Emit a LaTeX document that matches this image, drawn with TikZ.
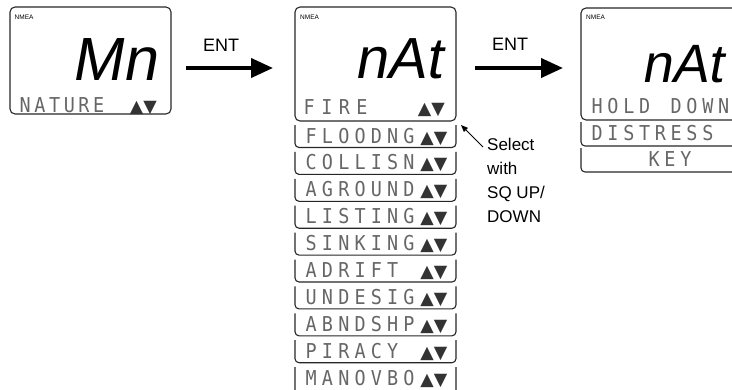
\documentclass[tikz,border=0pt]{standalone}
\usepackage{fontspec}
\setmainfont{Liberation Sans}
\newfontfamily\lcdfont{DejaVu Sans Mono}[FakeStretch=0.9]
\newfontfamily\symfont{DejaVu Sans}
\newfontfamily\segfont{Liberation Sans}[FakeSlant=0.18]
\usetikzlibrary{arrows.meta}
\newlength\lcdpitch
\newcommand\lcdloop[1]{\ifx\relax#1\else\makebox[\lcdpitch][l]{#1}\expandafter\lcdloop\fi}
\newcommand\lcdrun[2][16.3pt]{\setlength\lcdpitch{#1}\edef\lcdtmp{#2}\expandafter\lcdloop\lcdtmp\relax}
\begin{document}
\begin{tikzpicture}[x=1pt,y=-1pt,
  frame/.style={draw=black!85, line width=1.1pt},
  mainbox/.style={frame, rounded corners=5pt, minimum width=161pt, inner sep=0},
  lcd/.style={font=\lcdfont\fontsize{20.5}{20.5}\selectfont, text=black!60, inner sep=0, anchor=base west},
  av/.style={font=\symfont\fontsize{17.5}{17.5}\selectfont, text=black!80, inner sep=0, anchor=base east},
  seg/.style={font=\segfont\fontsize{58}{58}\selectfont, inner sep=0, anchor=base west},
  nmea/.style={font=\fontsize{6.5}{6.5}\selectfont, inner sep=0, anchor=west},
  lbl/.style={font=\fontsize{18}{18}\selectfont, inner sep=0},
  entarrow/.style={line width=4pt, -{Triangle[length=22pt,width=19pt]}},
  selarrow/.style={line width=0.9pt, -{Triangle[length=7pt,width=5.5pt]}}
]
\useasboundingbox (0,0) rectangle (732,389);
\clip (0,0) rectangle (732,389);

% ---- display 1
\node[mainbox, minimum height=107pt] (b1) at (90.5,60.5) {};
\node[nmea] (n1) at (14.5,17.5) {NMEA};
\node[seg, font=\segfont\fontsize{61}{61}\selectfont] (m1) at (71,80) {Mn};
\node[lcd] (t1) at (19.5,112.5) {\lcdrun[14.7pt]{NATURE}};
\node[av] (v1) at (157,112.5) {▲▼};

% ---- display 2
\node[mainbox, minimum height=114pt] (b2) at (375.5,64) {};
\node[nmea] (n2) at (300,17.5) {NMEA};
\node[seg] (m2) at (354,78) {nAt};
\node[lcd] (t2) at (303.5,114) {\lcdrun[17.6pt]{FIRE}};
\node[av] (v2) at (445,114) {▲▼};

\foreach \nm [count=\i from 0] in {FLOODNG,COLLISN,AGROUND,LISTING,SINKING,ADRIFT,UNDESIG,ABNDSHP,PIRACY,MANOVBO} {
  \pgfmathsetmacro\tp{125+26.9*\i}
  \pgfmathsetmacro\bt{\i==9 ? 420 : \tp+22.5}
  \pgfmathsetmacro\bl{\tp+18}
  \draw[frame, rounded corners=4pt] (295,\tp) -- (295,\bt) -- (456,\bt) -- (456,\tp);
  \node[lcd] (r\i) at (305.5,\bl) {\lcdrun{\nm}};
  \node[av] (w\i) at (447.5,\bl) {▲▼};
}

% ---- display 3
\node[mainbox, minimum height=112pt] (b3) at (661.5,64) {};
\node[nmea] (n3) at (586,17.5) {NMEA};
\node[seg, font=\segfont\fontsize{54}{54}\selectfont] (m3) at (641,82) {nAt};
\node[lcd] (t3) at (591.5,113) {\lcdrun[15.8pt]{HOLD\ DOWN}};
\draw[frame, rounded corners=4pt] (581,122) -- (581,146) -- (742,146) -- (742,122);
\node[lcd] (t4) at (591.5,140) {\lcdrun[15.8pt]{DISTRESS}};
\draw[frame, rounded corners=4pt] (581,148) -- (581,172) -- (742,172) -- (742,148);
\node[lcd] (t5) at (648.5,166) {\lcdrun[15.8pt]{KEY}};

% ---- arrows and labels
\node[lbl] (e1) at (221,45) {ENT};
\node[lbl] (e2) at (510,44) {ENT};
\coordinate (a1s) at (186,68);
\coordinate (a1e) at (273,68);
\coordinate (a2s) at (475,68);
\coordinate (a2e) at (563,68);
\draw[entarrow] (a1s) -- (a1e);
\draw[entarrow] (a2s) -- (a2e);

\node[font=\fontsize{17}{24}\selectfont, align=left, inner sep=0, anchor=north west] (sel) at (487,137.5) {Select\\with\\SQ UP/\\DOWN};
\coordinate (st) at (483,147);
\coordinate (se) at (461,125);
\draw[selarrow] (st) -- (se);
\end{tikzpicture}
\end{document}
